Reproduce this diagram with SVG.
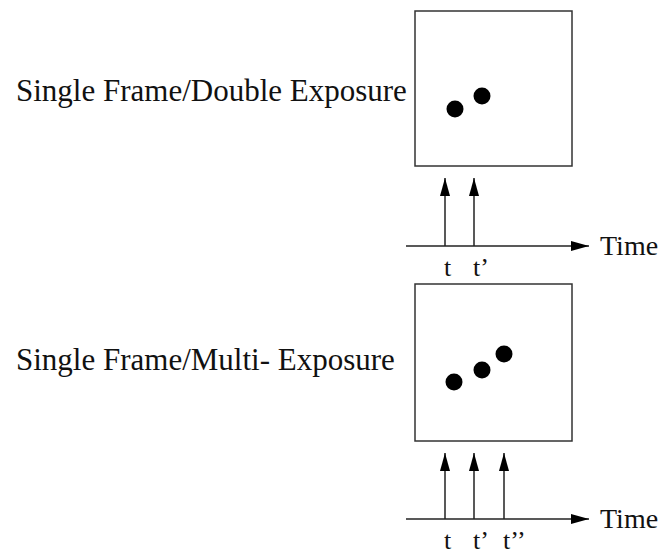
<svg xmlns="http://www.w3.org/2000/svg" width="664" height="556" viewBox="0 0 664 556">
<style>
text{font-family:"Liberation Serif","Times New Roman",serif;fill:#111}
.lbl{font-size:31px}
.time{font-size:28px}
.tk{font-size:26px}
.frame{fill:#fff;stroke:#333;stroke-width:1.5}
.ax{stroke:#222;stroke-width:1.5;fill:none}
.dot{fill:#000}
</style>
<defs>
<marker id="ahx" markerWidth="18" markerHeight="12" viewBox="0 0 18 12" refX="18" refY="6" orient="auto" markerUnits="userSpaceOnUse">
<path d="M0,1 L18,6 L0,11 Z" fill="#000"/>
</marker>
</defs>
<g id="label-double"><text class="lbl" x="16" y="101">Single Frame/Double Exposure</text></g>
<g id="frame-double">
<rect class="frame" x="415" y="11" width="157" height="155"/>
<circle class="dot" cx="455" cy="109" r="8.5"/>
<circle class="dot" cx="482" cy="96" r="8.5"/>
</g>
<g id="label-multi"><text class="lbl" x="16" y="370">Single Frame/Multi- Exposure</text></g>
<g id="frame-multi">
<rect class="frame" x="415" y="284" width="157" height="157"/>
<circle class="dot" cx="454" cy="382" r="8.5"/>
<circle class="dot" cx="482" cy="370" r="8.5"/>
<circle class="dot" cx="504" cy="354" r="8.5"/>
</g>
<g id="connectors">
<line class="ax" x1="406" y1="246" x2="589" y2="246" marker-end="url(#ahx)"/>
<line class="ax" x1="445" y1="246" x2="445" y2="178" marker-end="url(#ahx)"/>
<line class="ax" x1="474" y1="246" x2="474" y2="178" marker-end="url(#ahx)"/>
<line class="ax" x1="406" y1="519" x2="589" y2="519" marker-end="url(#ahx)"/>
<line class="ax" x1="445" y1="519" x2="445" y2="453" marker-end="url(#ahx)"/>
<line class="ax" x1="474" y1="519" x2="474" y2="453" marker-end="url(#ahx)"/>
<line class="ax" x1="504" y1="519" x2="504" y2="453" marker-end="url(#ahx)"/>
</g>
<g id="axis-top-labels">
<text class="time" x="600" y="255">Time</text>
<text class="tk" x="444" y="276">t</text>
<text class="tk" x="473" y="276">t’</text>
</g>
<g id="axis-bottom-labels">
<text class="time" x="600" y="528">Time</text>
<text class="tk" x="444" y="549">t</text>
<text class="tk" x="473" y="549">t’</text>
<text class="tk" x="503" y="549">t’’</text>
</g>
</svg>
